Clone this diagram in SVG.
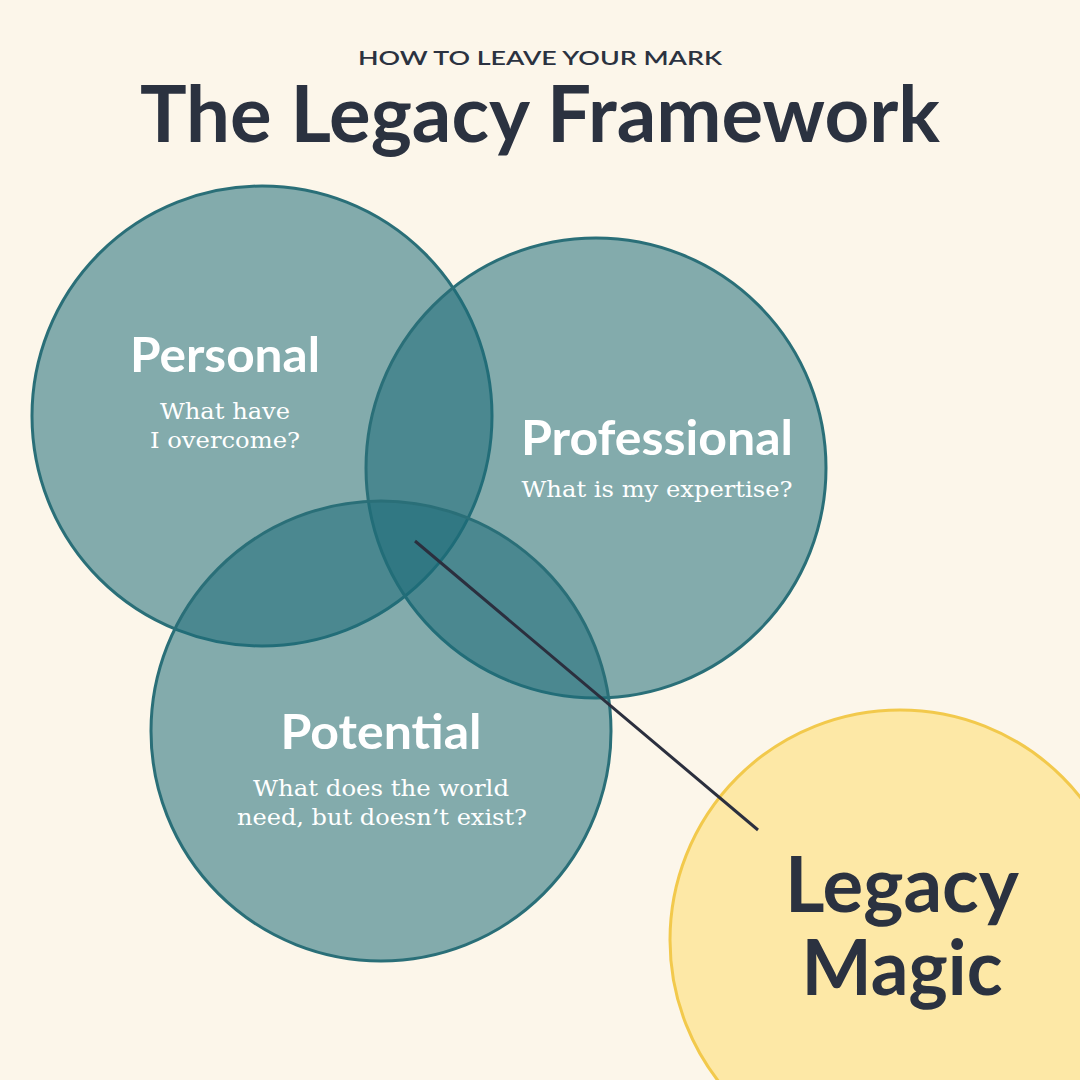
<svg xmlns="http://www.w3.org/2000/svg" width="1080" height="1080" viewBox="0 0 1080 1080">
<style>
.bg{fill:#FCF6EA}
.venn{fill:#1B6C78;fill-opacity:0.54;stroke:#2A6F78;stroke-width:3}
.gold{fill:#FDE8A6;stroke:#F2C94C;stroke-width:3}
.head{font-family:Lato,"Open Sans",sans-serif;font-weight:700;fill:#FFFFFF;text-anchor:middle}
.q{font-family:"DejaVu Serif","Liberation Serif",serif;fill:#FFFFFF;text-anchor:middle;font-size:22px}
.dark{fill:#2B3240}
.conn{stroke:#2B2F3E;stroke-width:3;fill:none}
</style>
<rect class="bg" x="0" y="0" width="1080" height="1080"/>
<g id="title">
<text x="540" y="65" font-family="Lato,'Open Sans',sans-serif" font-size="19" font-weight="600" fill="#2B3240" text-anchor="middle" textLength="364" lengthAdjust="spacingAndGlyphs">HOW TO LEAVE YOUR MARK</text>
<text x="540" y="142" font-family="Lato,'Open Sans',sans-serif" font-size="78" font-weight="700" fill="#2B3240" text-anchor="middle" textLength="800" lengthAdjust="spacingAndGlyphs">The Legacy Framework</text>
</g>
<g id="personal">
<circle class="venn" cx="262" cy="416" r="230"/>
</g>
<g id="professional">
<circle class="venn" cx="596" cy="468" r="230"/>
</g>
<g id="potential">
<circle class="venn" cx="381" cy="731" r="230"/>
</g>
<g id="legacy-magic">
<circle class="gold" cx="900" cy="940" r="230"/>
<text class="head dark" x="902" y="912" font-size="76" textLength="234" lengthAdjust="spacingAndGlyphs">Legacy</text>
<text class="head dark" x="902" y="995" font-size="76" textLength="201" lengthAdjust="spacingAndGlyphs">Magic</text>
</g>
<g id="labels">
<text class="head" x="225" y="372" font-size="48" textLength="190" lengthAdjust="spacingAndGlyphs">Personal</text>
<text class="q" x="225" y="419" textLength="130" lengthAdjust="spacingAndGlyphs">What have</text>
<text class="q" x="225" y="448" textLength="150" lengthAdjust="spacingAndGlyphs">I overcome?</text>
<text class="head" x="657" y="455" font-size="48" textLength="272" lengthAdjust="spacingAndGlyphs">Professional</text>
<text class="q" x="657" y="497" textLength="271" lengthAdjust="spacingAndGlyphs">What is my expertise?</text>
<text class="head" x="381" y="749" font-size="48" textLength="201" lengthAdjust="spacingAndGlyphs">Potential</text>
<text class="q" x="381" y="796" textLength="256" lengthAdjust="spacingAndGlyphs">What does the world</text>
<text class="q" x="382" y="825" textLength="290" lengthAdjust="spacingAndGlyphs">need, but doesn’t exist?</text>
</g>
<g id="connectors">
<line class="conn" x1="415" y1="541" x2="758" y2="830"/>
</g>
</svg>
